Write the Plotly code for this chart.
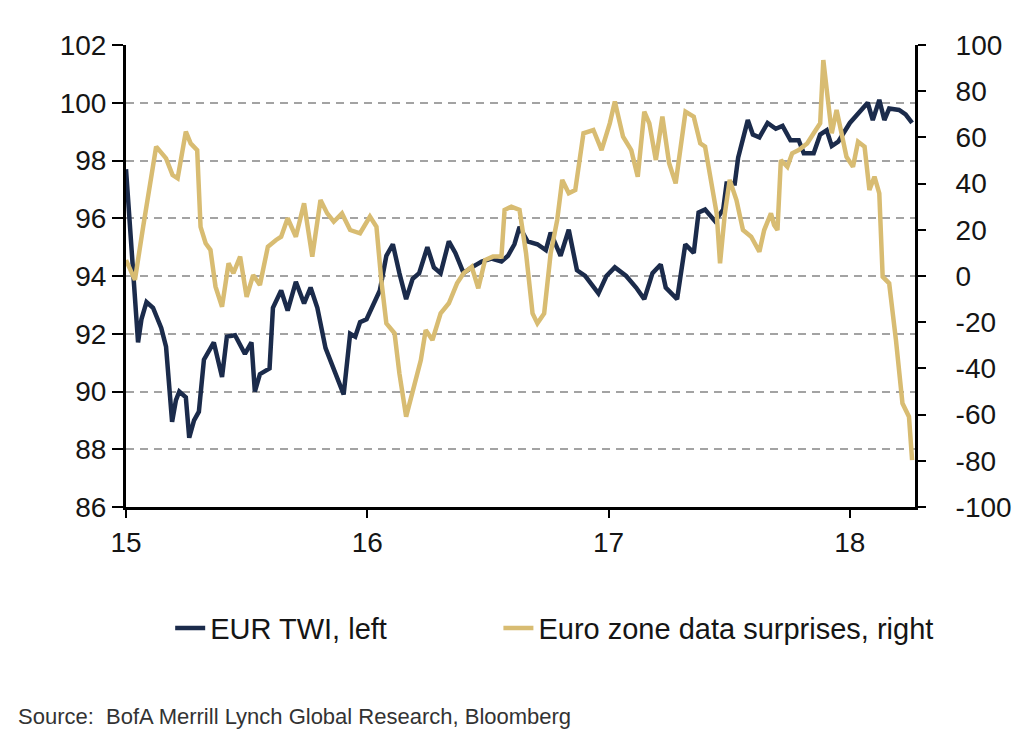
import plotly.graph_objects as go

# EUR trade-weighted index (left axis); x in fractional years (15 = 2015)
twi_x = [15.000, 15.050, 15.064, 15.085, 15.112, 15.146, 15.166, 15.191, 15.207, 15.221,
         15.248, 15.262, 15.282, 15.302, 15.323, 15.343, 15.364, 15.398, 15.418, 15.452,
         15.493, 15.520, 15.534, 15.555, 15.595, 15.609, 15.643, 15.670, 15.704, 15.738,
         15.765, 15.793, 15.827, 15.902, 15.929, 15.950, 15.970, 15.997, 16.018, 16.038,
         16.052, 16.079, 16.106, 16.133, 16.161, 16.188, 16.215, 16.249, 16.276, 16.304,
         16.338, 16.365, 16.399, 16.433, 16.474, 16.515, 16.556, 16.583, 16.610, 16.631,
         16.664, 16.705, 16.740, 16.760, 16.801, 16.835, 16.869, 16.903, 16.937, 16.958,
         16.991, 17.026, 17.073, 17.114, 17.148, 17.182, 17.216, 17.237, 17.284, 17.318,
         17.353, 17.373, 17.400, 17.441, 17.475, 17.489, 17.523, 17.537, 17.577, 17.598,
         17.625, 17.659, 17.693, 17.721, 17.754, 17.788, 17.809, 17.850, 17.877, 17.904,
         17.925, 17.952, 18.000, 18.040, 18.074, 18.095, 18.122, 18.143, 18.163, 18.204,
         18.231, 18.258]
twi_y = [97.7, 91.7, 92.5, 93.1, 92.9, 92.2, 91.55, 88.95, 89.7, 90.0,
         89.8, 88.4, 89.0, 89.3, 91.1, 91.4, 91.7, 90.5, 91.9, 91.95,
         91.3, 91.7, 90.0, 90.6, 90.8, 92.9, 93.5, 92.8, 93.8, 93.05,
         93.6, 92.9, 91.5, 89.9, 92.0, 91.9, 92.4, 92.5, 92.9, 93.2,
         93.5, 94.7, 95.1, 94.1, 93.2, 93.9, 94.1, 95.0, 94.3, 94.1,
         95.2, 94.8, 94.1, 94.3, 94.5, 94.6, 94.5, 94.7, 95.1, 95.7,
         95.2, 95.1, 94.9, 95.5, 94.7, 95.6, 94.2, 94.0, 93.6, 93.4,
         94.0, 94.3, 94.0, 93.6, 93.2, 94.1, 94.4, 93.6, 93.2, 95.1,
         94.8, 96.2, 96.3, 95.9, 96.3, 97.2, 97.2, 98.1, 99.4, 98.9,
         98.8, 99.3, 99.1, 99.2, 98.7, 98.7, 98.25, 98.25, 98.9, 99.05,
         98.5, 98.65, 99.3, 99.7, 100.0, 99.4, 100.1, 99.4, 99.8, 99.75,
         99.6, 99.3]

# Euro zone data surprises (right axis)
surp_x = [15.000, 15.037, 15.071, 15.125, 15.166, 15.193, 15.214, 15.248, 15.268, 15.295,
          15.309, 15.330, 15.350, 15.371, 15.398, 15.425, 15.445, 15.473, 15.500, 15.527,
          15.555, 15.588, 15.622, 15.643, 15.670, 15.704, 15.738, 15.772, 15.806, 15.834,
          15.861, 15.895, 15.929, 15.970, 16.011, 16.038, 16.058, 16.079, 16.113, 16.133,
          16.161, 16.188, 16.222, 16.242, 16.270, 16.304, 16.338, 16.372, 16.399, 16.433,
          16.460, 16.488, 16.521, 16.556, 16.569, 16.597, 16.631, 16.658, 16.685, 16.705,
          16.733, 16.760, 16.787, 16.808, 16.835, 16.862, 16.896, 16.937, 16.971, 17.005,
          17.026, 17.060, 17.094, 17.121, 17.148, 17.169, 17.196, 17.223, 17.251, 17.278,
          17.298, 17.319, 17.353, 17.380, 17.400, 17.421, 17.448, 17.462, 17.482, 17.502,
          17.530, 17.557, 17.591, 17.625, 17.645, 17.673, 17.686, 17.700, 17.714, 17.741,
          17.761, 17.788, 17.823, 17.850, 17.877, 17.890, 17.911, 17.925, 17.945, 17.966,
          17.986, 18.013, 18.034, 18.061, 18.081, 18.102, 18.122, 18.136, 18.163, 18.191,
          18.218, 18.245, 18.258]
surp_y = [6.9, -1.7, 21.3, 56.0, 50.9, 43.7, 42.3, 62.5, 57.4, 54.5,
          21.3, 14.2, 11.3, -4.6, -13.3, 5.5, 1.2, 8.4, -9.0, 0.4,
          -3.9, 12.7, 15.6, 17.0, 25.0, 17.0, 31.5, 8.4, 32.9, 27.1,
          23.5, 27.1, 19.9, 18.5, 25.7, 21.3, -1.7, -20.5, -24.8, -42.1,
          -60.9, -50.8, -36.4, -23.4, -27.7, -16.2, -11.8, -3.2, 1.2, 4.0,
          -5.3, 6.9, 8.4, 8.4, 28.6, 30.0, 28.6, 9.8, -16.2, -20.5,
          -16.2, 9.8, 24.2, 41.6, 35.8, 37.2, 61.8, 63.2, 54.5, 66.1,
          75.5, 60.3, 54.5, 43.0, 71.1, 66.1, 50.2, 69.0, 48.8, 40.1,
          54.5, 71.1, 69.0, 57.4, 56.0, 43.0, 27.1, 5.5, 27.1, 41.6,
          32.9, 19.9, 17.0, 10.5, 19.9, 27.1, 22.1, 19.9, 50.2, 47.3,
          53.1, 54.5, 57.4, 61.8, 66.1, 93.5, 71.9, 61.8, 71.9, 60.3,
          51.6, 47.3, 58.1, 56.0, 37.2, 43.0, 35.8, -0.3, -3.2, -27.7,
          -55.1, -60.9, -79.7]

year_ticks = [15, 16, 17, 18]
year_labels = ["15", "16", "17", "18"]
left_ticks = [86, 88, 90, 92, 94, 96, 98, 100, 102]
right_ticks = [-100, -80, -60, -40, -20, 0, 20, 40, 60, 80, 100]
right_labels = [str(v) for v in right_ticks]

NAVY = "#1b2b4b"
GOLD = "#d8bc72"
FONT = "Liberation Sans, Arial, sans-serif"

fig = go.Figure()
fig.add_trace(go.Scatter(x=surp_x, y=surp_y, mode="lines", yaxis="y2",
                         name="Euro zone data surprises, right", legend="legend2",
                         line=dict(color=GOLD, width=4.5)))
fig.add_trace(go.Scatter(x=twi_x, y=twi_y, mode="lines", yaxis="y",
                         name="EUR TWI, left", legend="legend",
                         line=dict(color=NAVY, width=4.5)))

legend_common = dict(orientation="h", y=-0.262, xanchor="left", yanchor="middle",
                     font=dict(size=29, color="#151515"), bgcolor="rgba(0,0,0,0)")

fig.update_layout(
    width=1024, height=751,
    margin=dict(l=126, r=98, t=45, b=244),
    paper_bgcolor="white", plot_bgcolor="white",
    font=dict(family=FONT, size=28, color="#151515"),
    xaxis=dict(range=[15, 18.27], tickvals=year_ticks, ticktext=year_labels,
               showline=True, linecolor="black", linewidth=3,
               ticks="outside", ticklen=8, tickwidth=2, tickcolor="black",
               showgrid=False, zeroline=False, tickfont=dict(size=28)),
    yaxis=dict(range=[86, 102], tickvals=left_ticks,
               showline=True, linecolor="black", linewidth=3,
               ticks="outside", ticklen=11, tickwidth=2, tickcolor="black",
               showgrid=True, gridcolor="#a3a3a3", gridwidth=2, griddash="8px,6px",
               zeroline=False, tickfont=dict(size=28)),
    yaxis2=dict(range=[-100, 100], tickvals=right_ticks, ticktext=right_labels,
                overlaying="y", side="right",
                showline=True, linecolor="black", linewidth=3,
                ticks="outside", ticklen=8, tickwidth=2, tickcolor="black",
                showgrid=False, zeroline=False, tickfont=dict(size=28),
                ticklabelstandoff=24),
    legend=dict(x=0.056, **legend_common),
    legend2=dict(x=0.472, **legend_common),
    showlegend=True,
)

fig.add_annotation(text="Source:  BofA Merrill Lynch Global Research, Bloomberg",
                   xref="paper", yref="paper", x=-0.14, y=-0.4545,
                   xanchor="left", yanchor="middle", showarrow=False,
                   font=dict(size=22, color="#333333"))

fig.write_html("out.html", config={"displayModeBar": False},
               post_script="document.body.style.margin='0';")
